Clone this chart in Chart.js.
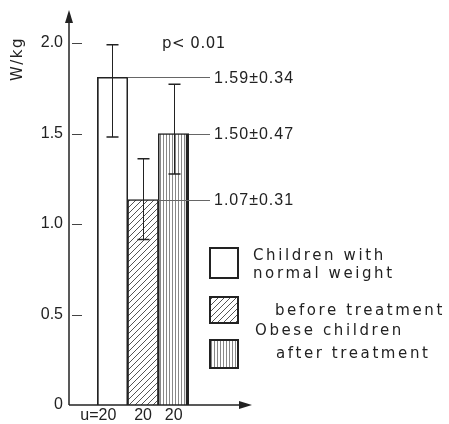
<!DOCTYPE html>
<html><head><meta charset="utf-8">
<script src="https://cdn.jsdelivr.net/npm/chart.js@4"></script>
<style>html,body{margin:0;padding:0;background:#fff}</style>
</head><body>
<canvas id="c" width="449" height="424"></canvas>
<script>
// ---- data ----
const groups = ['Children with normal weight', 'Obese children before treatment', 'Obese children after treatment'];
const counts = ['u=20', '20', '20'];
const means = [1.81, 1.135, 1.50];
const errLow = [1.48, 0.915, 1.276];
const errHigh = [1.99, 1.36, 1.772];
const annotations = ['1.59\u00b10.34', '1.07\u00b10.31', '1.50\u00b10.47'];
const yTicks = [0, 0.5, 1.0, 1.5, 2.0];
const yTitle = 'W/kg';
const pText = 'p< 0.01';
const legendLines = [['Children with', 'normal weight'], ['before treatment'], ['Obese children', 'after treatment']];

// ---- patterns ----
function hatchPattern() {
  const c = document.createElement('canvas'); c.width = 6; c.height = 6;
  const g = c.getContext('2d');
  g.fillStyle = '#fff'; g.fillRect(0, 0, 6, 6);
  g.strokeStyle = '#555'; g.lineWidth = 1;
  g.beginPath();
  g.moveTo(0, 6); g.lineTo(6, 0);
  g.moveTo(-1, 1); g.lineTo(1, -1);
  g.moveTo(5, 7); g.lineTo(7, 5);
  g.stroke();
  return g.createPattern(c, 'repeat');
}
function stripePattern() {
  const c = document.createElement('canvas'); c.width = 3; c.height = 3;
  const g = c.getContext('2d');
  g.fillStyle = '#fff'; g.fillRect(0, 0, 3, 3);
  g.fillStyle = '#888'; g.fillRect(1, 0, 1, 3);
  return g.createPattern(c, 'repeat');
}
const fills = ['#ffffff', hatchPattern(), stripePattern()];
const INK = '#222';

const decor = {
  id: 'decor',
  afterDraw(chart) {
    const { ctx, scales: { x, y } } = chart;
    const meta = chart.getDatasetMeta(0);
    const axisX = 69;
    const y0 = y.getPixelForValue(0);
    ctx.save();
    ctx.strokeStyle = INK; ctx.fillStyle = INK;
    // y axis with arrow
    ctx.lineWidth = 1.5;
    ctx.beginPath(); ctx.moveTo(axisX, y0); ctx.lineTo(axisX, 20); ctx.stroke();
    ctx.beginPath(); ctx.moveTo(axisX, 10); ctx.lineTo(axisX - 4, 23); ctx.lineTo(axisX + 4, 23); ctx.closePath(); ctx.fill();
    // x axis with arrow
    ctx.beginPath(); ctx.moveTo(axisX, y0); ctx.lineTo(242, y0); ctx.stroke();
    ctx.beginPath(); ctx.moveTo(252, y0); ctx.lineTo(239, y0 - 4); ctx.lineTo(239, y0 + 4); ctx.closePath(); ctx.fill();
    // inner tick marks
    ctx.lineWidth = 1; ctx.strokeStyle = '#444';
    yTicks.forEach(v => {
      if (v === 0) return;
      const py = Math.round(y.getPixelForValue(v)) + 0.5;
      ctx.beginPath(); ctx.moveTo(72, py); ctx.lineTo(82, py); ctx.stroke();
    });
    // error bars
    ctx.strokeStyle = INK;
    means.forEach((m, i) => {
      const px = Math.round(x.getPixelForValue(i)) + 0.5;
      const ph = y.getPixelForValue(errHigh[i]);
      const pl = y.getPixelForValue(errLow[i]);
      ctx.lineWidth = 1;
      ctx.beginPath(); ctx.moveTo(px, ph); ctx.lineTo(px, pl); ctx.stroke();
      ctx.lineWidth = 1.5;
      ctx.beginPath(); ctx.moveTo(px - 6, ph); ctx.lineTo(px + 6, ph); ctx.moveTo(px - 6, pl); ctx.lineTo(px + 6, pl); ctx.stroke();
    });
    // annotation leader lines and values
    ctx.font = '16px "Liberation Sans"';
    ctx.letterSpacing = '1px';
    ctx.textBaseline = 'middle'; ctx.textAlign = 'left';
    meta.data.forEach((el, i) => {
      const right = el.x + el.width / 2;
      const py = Math.round(el.y) + 0.5;
      ctx.strokeStyle = '#666'; ctx.lineWidth = 1;
      ctx.beginPath(); ctx.moveTo(right, py); ctx.lineTo(210, py); ctx.stroke();
      ctx.fillStyle = INK;
      ctx.fillText(annotations[i], 214, el.y + 1);
    });
    // p value
    ctx.font = '15px "DejaVu Sans"';
    ctx.letterSpacing = '0.5px';
    ctx.fillText(pText, 162, 44);
    // x labels (n)
    ctx.font = '16px "Liberation Sans"';
    ctx.letterSpacing = '0px';
    ctx.textAlign = 'right';
    counts.forEach((t, i) => {
      const px = x.getPixelForValue(i);
      ctx.fillText(t, px + 9 - (i === 0 ? 5 : 0), 416);
    });
    // y title
    ctx.save();
    ctx.translate(18, 59); ctx.rotate(-Math.PI / 2);
    ctx.font = '15px "DejaVu Sans"'; ctx.letterSpacing = '1.5px';
    ctx.textAlign = 'center';
    ctx.fillText(yTitle, 0, 0);
    ctx.restore();
    // legend
    const boxes = [[210, 248, 28, 30], [210, 297, 28, 26], [210, 340, 28, 28]];
    boxes.forEach((b, i) => {
      ctx.fillStyle = fills[i];
      ctx.fillRect(b[0], b[1], b[2], b[3]);
      ctx.strokeStyle = INK; ctx.lineWidth = 2;
      ctx.strokeRect(b[0], b[1], b[2], b[3]);
    });
    ctx.fillStyle = INK;
    ctx.font = '15px "DejaVu Sans"'; ctx.letterSpacing = '2.6px';
    ctx.textAlign = 'left';
    const textPos = [[[253, 256], [253, 274]], [[275, 311]], [[255, 331], [276, 354]]];
    legendLines.forEach((lines, i) => {
      lines.forEach((t, j) => ctx.fillText(t, textPos[i][j][0], textPos[i][j][1]));
    });
    ctx.restore();
  }
};

new Chart(document.getElementById('c'), {
  type: 'bar',
  data: {
    labels: counts,
    datasets: [{
      label: 'W/kg',
      data: means,
      backgroundColor: fills,
      borderColor: INK,
      borderWidth: [
        { top: 1.5, left: 2, right: 1.5, bottom: 0 },
        { top: 1.5, left: 1.5, right: 1.5, bottom: 0 },
        { top: 1.5, left: 1.5, right: 3.5, bottom: 0 }
      ],
      borderSkipped: 'start',
      barPercentage: 1,
      categoryPercentage: 1
    }]
  },
  options: {
    responsive: false,
    animation: false,
    devicePixelRatio: 1,
    layout: { padding: { top: 43, right: 260, left: 0, bottom: 0 } },
    plugins: { legend: { display: false }, tooltip: { enabled: false } },
    scales: {
      x: {
        grid: { display: false, drawTicks: false },
        border: { display: false },
        ticks: { display: false },
        afterFit(s) { s.height = 19; }
      },
      y: {
        min: 0, max: 2,
        afterBuildTicks(s) { s.ticks = yTicks.map(v => ({ value: v })); },
        grid: { display: false, drawTicks: false },
        border: { display: false },
        ticks: {
          padding: 34,
          color: INK,
          font: { family: 'Liberation Sans', size: 16 },
          callback: v => (v === 0 ? '0' : v.toFixed(1))
        },
        afterFit(s) { s.width = 97; s.paddingTop = 9; s.paddingBottom = 9; }
      }
    }
  },
  plugins: [decor]
});
</script>
</body></html>
